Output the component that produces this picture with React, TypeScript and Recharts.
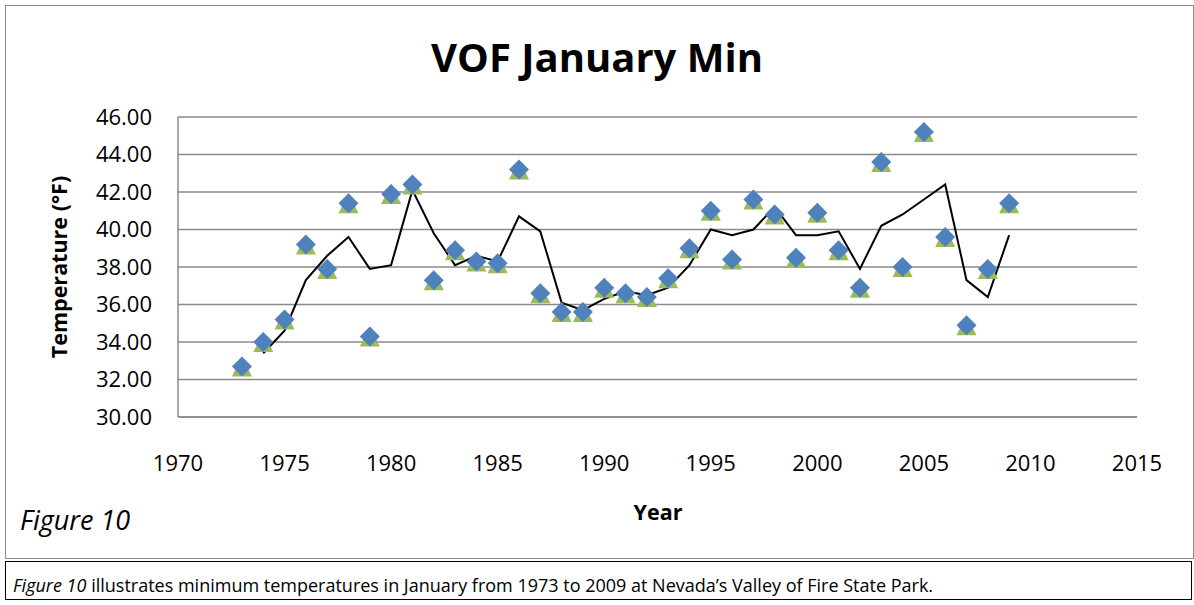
import React from "react";
import { CartesianGrid, ComposedChart, Line, Scatter, XAxis, YAxis } from "recharts";

// observed January minimums (°F), one per year
const years = [
  1973, 1974, 1975, 1976, 1977, 1978, 1979, 1980, 1981, 1982, 1983, 1984, 1985,
  1986, 1987, 1988, 1989, 1990, 1991, 1992, 1993, 1994, 1995, 1996, 1997, 1998,
  1999, 2000, 2001, 2002, 2003, 2004, 2005, 2006, 2007, 2008, 2009,
];
const minTemps = [
  32.7, 34.0, 35.2, 39.2, 37.9, 41.4, 34.3, 41.9, 42.4, 37.3, 38.9, 38.3, 38.2,
  43.2, 36.6, 35.6, 35.6, 36.9, 36.6, 36.4, 37.4, 39.0, 41.0, 38.4, 41.6, 40.8,
  38.5, 40.9, 38.9, 36.9, 43.6, 38.0, 45.2, 39.6, 34.9, 37.9, 41.4,
];
// trend line as drawn (2-period moving average)
const trend = [
  null, 33.4, 34.6, 37.3, 38.6, 39.6, 37.9, 38.1, 42.1, 39.8, 38.1, 38.6, 38.3,
  40.7, 39.9, 36.1, 35.7, 36.3, 36.7, 36.5, 36.9, 38.1, 40.0, 39.7, 40.0, 41.2,
  39.7, 39.7, 39.9, 37.9, 40.2, 40.8, 41.6, 42.4, 37.3, 36.4, 39.7,
];
const xTicks = [1970, 1975, 1980, 1985, 1990, 1995, 2000, 2005, 2010, 2015];
const yTicks = [30, 32, 34, 36, 38, 40, 42, 44, 46];

const rows = years.map((year, i) => ({ year, temp: minTemps[i], avg: trend[i] }));

const FONT = "'Open Sans', 'Noto Sans', sans-serif";
const GRID = "#8a8a8a";

const Diamond = (props: any) => {
  const { cx, cy } = props;
  if (cx == null || cy == null) return null;
  const r = 10;
  return (
    <path
      d={`M${cx},${cy - r} L${cx + r},${cy} L${cx},${cy + r} L${cx - r},${cy} Z`}
      fill="#4f81bd"
    />
  );
};

const Triangle = (props: any) => {
  const { cx, cy } = props;
  if (cx == null || cy == null) return null;
  const r = 10;
  return (
    <path
      d={`M${cx},${cy - r} L${cx + r},${cy + r} L${cx - r},${cy + r} Z`}
      fill="#9bbb59"
    />
  );
};

export default function App() {
  return (
    <div
      style={{
        position: "absolute",
        left: 0,
        top: 0,
        width: 1194,
        height: 605,
        background: "#fff",
        fontFamily: FONT,
      }}
    >
      {/* chart frame */}
      <div
        style={{
          position: "absolute",
          left: 5,
          top: 5,
          width: 1187,
          height: 552,
          border: "1.5px solid #8c8c8c",
        }}
      />
      <ComposedChart
        width={1194}
        height={560}
        data={rows}
        margin={{ top: 117, right: 57, bottom: 83, left: 78 }}
        style={{ position: "absolute", left: 0, top: 0 }}
      >
        <CartesianGrid vertical={false} stroke={GRID} strokeWidth={1.5} />
        <XAxis
          dataKey="year"
          type="number"
          domain={[1970, 2015]}
          ticks={xTicks}
          interval={0}
          tickLine={false}
          axisLine={{ stroke: GRID, strokeWidth: 1.5 }}
          tick={{ fontSize: 22, fill: "#000", fontFamily: FONT }}
          tickMargin={32}
          height={60}
        />
        <YAxis
          type="number"
          domain={[30, 46]}
          ticks={yTicks}
          interval={0}
          tickFormatter={(v: number) => v.toFixed(2)}
          tickLine={false}
          axisLine={{ stroke: GRID, strokeWidth: 1.5 }}
          tick={{ fontSize: 22, fill: "#000", fontFamily: FONT }}
          tickMargin={20}
          width={100}
        />
        <Scatter dataKey="temp" shape={Triangle} isAnimationActive={false} />
        <Scatter dataKey="temp" shape={Diamond} isAnimationActive={false} />
        <Line
          dataKey="avg"
          type="linear"
          stroke="#000"
          strokeWidth={2}
          dot={false}
          activeDot={false}
          connectNulls
          isAnimationActive={false}
        />
      </ComposedChart>

      <div
        style={{
          position: "absolute",
          left: 0,
          width: 1194,
          top: 29,
          textAlign: "center",
          fontSize: 40,
          fontWeight: 700,
          lineHeight: "56px",
        }}
      >
        VOF January Min
      </div>
      <div
        style={{
          position: "absolute",
          left: 58,
          top: 267,
          transform: "translate(-50%, -50%) rotate(-90deg)",
          whiteSpace: "nowrap",
          fontSize: 21.5,
          fontWeight: 700,
        }}
      >
        Temperature (°F)
      </div>
      <div
        style={{
          position: "absolute",
          left: 658,
          top: 511,
          transform: "translate(-50%, -50%)",
          fontSize: 21.5,
          fontWeight: 700,
        }}
      >
        Year
      </div>
      <div
        style={{
          position: "absolute",
          left: 20,
          top: 503,
          fontSize: 27,
          fontStyle: "italic",
          lineHeight: "34px",
        }}
      >
        Figure 10
      </div>

      {/* caption box */}
      <div
        style={{
          position: "absolute",
          left: 5,
          top: 561,
          width: 1187,
          height: 39,
          border: "1px solid #000",
          boxSizing: "border-box",
          fontSize: 18,
          lineHeight: "18px",
          paddingLeft: 7,
          paddingTop: 14,
          whiteSpace: "nowrap",
        }}
      >
        <i>Figure 10</i> illustrates minimum temperatures in January from 1973 to 2009 at Nevada’s Valley of Fire State Park.
      </div>
    </div>
  );
}
